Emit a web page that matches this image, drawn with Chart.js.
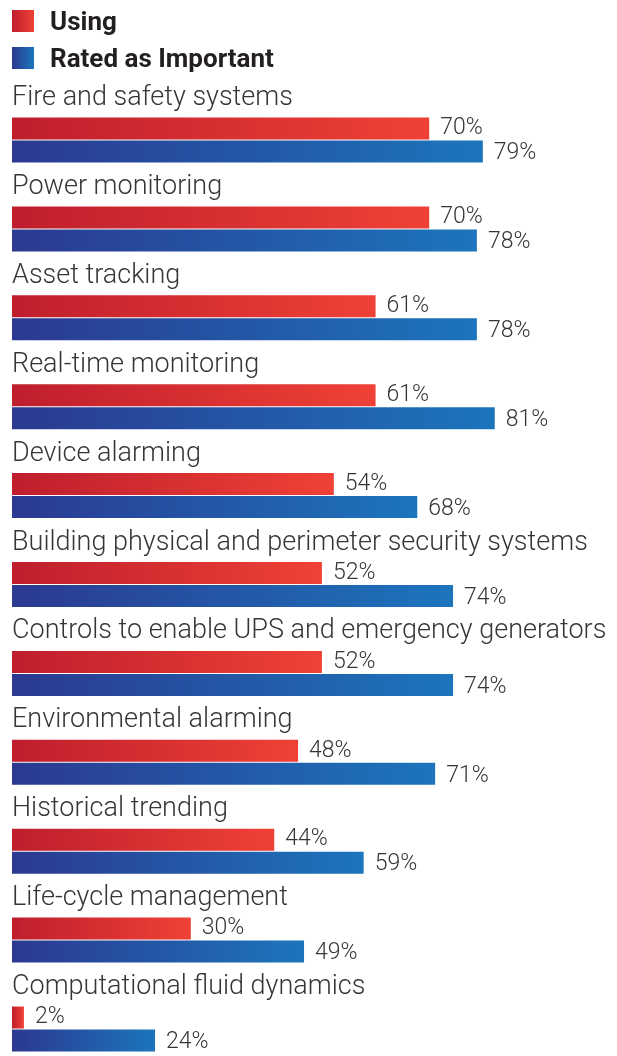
<!DOCTYPE html>
<html>
<head>
<meta charset="utf-8">
<script src="https://cdn.jsdelivr.net/npm/chart.js@4.4.1/dist/chart.umd.min.js"></script>
<style>
    html, body { margin: 0; padding: 0; background: #fff; }
    #wrap { position: relative; width: 617px; height: 1056px; }
    #legend { position: absolute; left: 12px; top: 2px; font-family: Roboto, sans-serif; font-weight: 700; font-size: 26px; color: #231f20; }
    .item { display: flex; align-items: center; height: 37px; }
    .box { width: 22px; height: 22px; margin-right: 16px; }
</style>
</head>
<body>
<div id="wrap">
    <canvas id="chart"></canvas>
    <div id="legend">
        <div class="item"><span class="box" style="background: linear-gradient(90deg, #be1e2d, #ef4136)"></span>Using</div>
        <div class="item"><span class="box" style="background: linear-gradient(90deg, #2b3990, #1c75bc)"></span>Rated as Important</div>
    </div>
</div>
<script>
const categories = [
    "Fire and safety systems",
    "Power monitoring",
    "Asset tracking",
    "Real-time monitoring",
    "Device alarming",
    "Building physical and perimeter security systems",
    "Controls to enable UPS and emergency generators",
    "Environmental alarming",
    "Historical trending",
    "Life-cycle management",
    "Computational fluid dynamics"
];
const usingValues = [70, 70, 61, 61, 54, 52, 52, 48, 44, 30, 2];
const importantValues = [79, 78, 78, 81, 68, 74, 74, 71, 59, 49, 24];

const redStops = ["#be1e2d", "#ef4136"];
const blueStops = ["#2b3990", "#1c75bc"];

function barGradient(stops) {
    return (context) => {
        const chart = context.chart;
        if (!chart.chartArea || context.raw === undefined) {
            return stops[1];
        }
        const x0 = chart.scales.x.getPixelForValue(0);
        const x1 = chart.scales.x.getPixelForValue(context.raw);
        const g = chart.ctx.createLinearGradient(x0, 0, x1, 0);
        g.addColorStop(0, stops[0]);
        g.addColorStop(1, stops[1]);
        return g;
    };
}

const textColor = "#363636";
const labelFont = "300 27px Roboto";
const valueFont = "300 23px Roboto";

const labelPlugin = {
    id: "labels",
    afterDatasetsDraw(chart) {
        const ctx = chart.ctx;
        const yScale = chart.scales.y;
        ctx.save();
        ctx.fillStyle = textColor;

        // category names above each pair of bars
        ctx.font = labelFont;
        ctx.textAlign = "left";
        ctx.textBaseline = "alphabetic";
        categories.forEach((name, i) => {
            const y = yScale.getPixelForValue(i);
            ctx.fillText(name, 12, y - 23 - 12);
        });

        // percentages to the right of the bars
        ctx.font = valueFont;
        ctx.textBaseline = "middle";
        chart.data.datasets.forEach((ds, d) => {
            const meta = chart.getDatasetMeta(d);
            meta.data.forEach((el, i) => {
                ctx.fillText(ds.data[i] + "%", el.x + 11, el.y + (d === 1 ? 2 : 0));
            });
        });
        ctx.restore();
    }
};

new Chart(document.getElementById("chart"), {
    type: "bar",
    data: {
        labels: categories,
        datasets: [
            {
                label: "Using",
                data: usingValues,
                backgroundColor: barGradient(redStops),
                clip: false
            },
            {
                label: "Rated as Important",
                data: importantValues,
                backgroundColor: barGradient(blueStops),
                clip: false
            }
        ]
    },
    options: {
        indexAxis: "y",
        responsive: true,
        maintainAspectRatio: false,
        animation: false,
        categoryPercentage: 46 / 88.95,
        barPercentage: 22 / 23,
        layout: {
            padding: { left: 12, right: 9, top: 140, bottom: 27 }
        },
        scales: {
            x: { min: 0, max: 100, display: false },
            y: { display: false, offset: false }
        },
        plugins: {
            legend: { display: false },
            tooltip: { enabled: false }
        }
    },
    plugins: [labelPlugin]
});
</script>
</body>
</html>
